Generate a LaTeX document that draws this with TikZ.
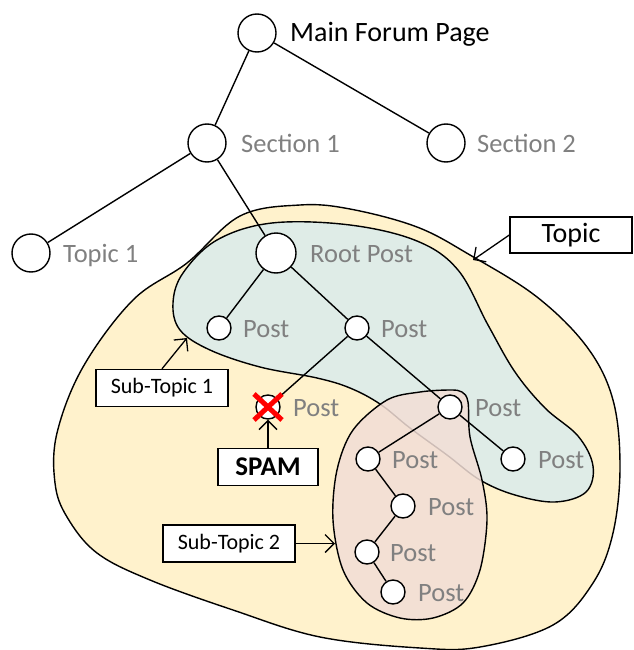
\documentclass[tikz,border=0pt]{standalone}
\usepackage{fontspec}
\setmainfont{Carlito}
\usetikzlibrary{calc,arrows.meta}
\definecolor{topicfill}{HTML}{FFF2CC}
\definecolor{subonefill}{HTML}{DFECE7}
\definecolor{subtwofill}{HTML}{F2DED6}
\definecolor{labelgray}{HTML}{808080}
\definecolor{spamred}{HTML}{FF0000}
\begin{document}
\begin{tikzpicture}[x=1pt,y=-1pt,
  bignode/.style={circle,draw,fill=white,line width=1.4pt,minimum size=38pt,inner sep=0pt},
  postnode/.style={circle,draw,fill=white,line width=1.4pt,minimum size=24pt,inner sep=0pt},
  lbl/.style={text=labelgray,anchor=base west,inner sep=0pt,font=\fontsize{26.5}{30}\selectfont},
  edge/.style={line width=1.4pt},
  blob/.style={line width=1.4pt,draw=black},
  boxnode/.style={draw,fill=white,line width=1.4pt,inner sep=0pt,minimum height=37pt,font=\fontsize{22}{26}\selectfont},
  callout/.style={line width=1.3pt,-{Straight Barb[length=9pt,width=18pt,line width=1.3pt]}}]
\useasboundingbox (0,0) rectangle (633,650);

% Topic blob
\draw[blob,fill=topicfill] plot[smooth cycle,tension=0.6] coordinates {
  (300,205) (350,209) (417,227) (470,255) (537,297) (587,347) (613,400)
  (620,467) (613,533) (593,583) (553,625) (480,647) (420,648) (320,637)
  (233,610) (150,580) (97,553) (67,517) (55,483) (57,433) (83,367)
  (133,300) (187,263) (240,216)};

% Sub-topic 1 blob
\draw[blob,fill=subonefill] plot[smooth cycle,tension=0.6] coordinates {
  (272,223) (350,225) (417,241) (458,270) (488,325) (515,372) (545,408)
  (578,436) (593,466) (586,492) (555,502) (515,495) (480,480) (447,455)
  (410,428) (380,404) (350,388) (317,378) (260,367) (210,350) (180,330)
  (173,303) (183,273) (217,240)};

% Sub-topic 2 blob
\fill[subtwofill,fill opacity=0.85] plot[smooth cycle,tension=0.55] coordinates {
  (387,400) (420,392) (450,390) (462,392) (468,402) (470,437) (482,480)
  (487,520) (480,570) (463,603) (433,618) (400,618) (367,603) (343,570)
  (333,520) (337,470) (353,430)};
\draw[blob] plot[smooth cycle,tension=0.55] coordinates {
  (387,400) (420,392) (450,390) (462,392) (468,402) (470,437) (482,480)
  (487,520) (480,570) (463,603) (433,618) (400,618) (367,603) (343,570)
  (333,520) (337,470) (353,430)};

% Nodes
\node[bignode] (main) at (257,33) {};
\node[bignode] (sec1) at (207,143) {};
\node[bignode] (sec2) at (446,143) {};
\node[bignode] (top1) at (31,253) {};
\node[bignode,minimum size=40pt] (root) at (276,253) {};
\node[postnode] (p1) at (219,328) {};
\node[postnode] (p2) at (357,328) {};
\node[postnode] (px) at (268,407) {};
\node[postnode] (p3) at (450,407) {};
\node[postnode] (p4) at (368,459) {};
\node[postnode] (p5) at (513,459) {};
\node[postnode] (p6) at (403,506) {};
\node[postnode] (p7) at (367,552) {};
\node[postnode] (p8) at (393,592) {};

% Edges
\draw[edge] (main) -- (sec1);
\draw[edge] (main) -- (sec2);
\draw[edge] (sec1) -- (top1);
\draw[edge] (sec1) -- (root);
\draw[edge] (root) -- (p1);
\draw[edge] (root) -- (p2);
\draw[edge] (p2) -- (px);
\draw[edge] (p2) -- (p3);
\draw[edge] (p3) -- (p4);
\draw[edge] (p3) -- (p5);
\draw[edge] (p4) -- (p6);
\draw[edge] (p6) -- (p7);
\draw[edge] (p7) -- (p8);

% Labels
\node[lbl,text=black,font=\fontsize{28}{32}\selectfont] (tmain) at (290,42) {Main Forum Page};
\node[lbl] (tsec1) at (241,152) {Section 1};
\node[lbl] (tsec2) at (477,152) {Section 2};
\node[lbl] (ttop1) at (63,262) {Topic 1};
\node[lbl] (troot) at (310,262) {Root Post};
\node[lbl] (tp1) at (243,337) {Post};
\node[lbl] (tp2) at (381,337) {Post};
\node[lbl] (tpx) at (293,416) {Post};
\node[lbl] (tp3) at (475,416) {Post};
\node[lbl] (tp4) at (392,468) {Post};
\node[lbl] (tp5) at (538,468) {Post};
\node[lbl] (tp6) at (428,515) {Post};
\node[lbl] (tp7) at (390,561) {Post};
\node[lbl] (tp8) at (418,601) {Post};

% Callout boxes
\node[boxnode,minimum width=122pt,minimum height=36pt,font=\fontsize{28}{32}\selectfont] (btopic) at (571,235) {Topic};
\node[boxnode,minimum width=132pt] (bsub1) at (162,388) {Sub-Topic 1};
\node[boxnode,minimum width=132pt] (bsub2) at (229,543.5) {Sub-Topic 2};
\node[boxnode,minimum width=100pt,font=\fontsize{27}{30}\selectfont\bfseries] (bspam) at (268,467) {SPAM};

\coordinate (atopic) at (473,260);
\coordinate (asub1) at (187,338);
\coordinate (asub2) at (335,543.5);
\draw[callout] (btopic.west) -- (atopic);
\draw[callout] (bsub1.north) -- (asub1);
\draw[callout] (bsub2.east) -- (asub2);
\draw[callout] (bspam.north) -- (px.south);

% Red X
\draw[spamred,line width=5pt] ($(px)+(-14,-13)$) -- ($(px)+(14,13)$);
\draw[spamred,line width=5pt] ($(px)+(14,-13)$) -- ($(px)+(-14,13)$);
\end{tikzpicture}
\end{document}
